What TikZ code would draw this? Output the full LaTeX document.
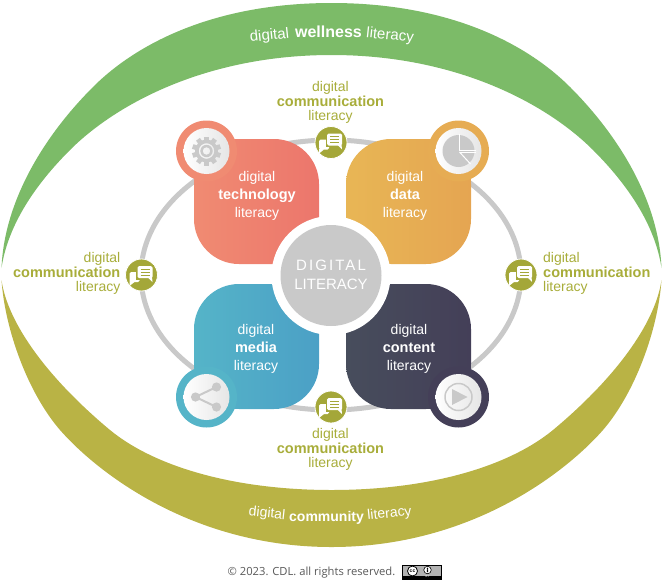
\documentclass[tikz,border=0pt]{standalone}
\usepackage{fontspec}
\setmainfont{Liberation Sans}
\newfontfamily\notefont{Open Sans}
\usepackage{xcolor}
\definecolor{wellgreen}{HTML}{7CBB68}
\definecolor{commolive}{HTML}{B9B345}
\definecolor{markolive}{HTML}{A4A739}
\definecolor{wordolive}{HTML}{A8AD3A}
\definecolor{ringgray}{HTML}{C9C9C9}
\definecolor{techleft}{HTML}{F08B72}
\definecolor{techright}{HTML}{EC766C}
\definecolor{dataleft}{HTML}{E8B655}
\definecolor{dataright}{HTML}{E5A552}
\definecolor{medialeft}{HTML}{55B4C8}
\definecolor{mediaright}{HTML}{4BA0C6}
\definecolor{contentleft}{HTML}{474D5C}
\definecolor{contentright}{HTML}{443F58}
\newcommand{\strongword}[1]{{\fontsize{14.5}{14.5}\selectfont\bfseries #1}}
\tikzset{
  squarebox/.style={rectangle,rounded corners=45pt,minimum size=125pt,inner sep=0pt},
  badge/.style={circle,minimum size=61pt,inner sep=0pt},
  iconface/.style={circle,minimum size=46pt,inner sep=0pt,left color=white,right color=black!10},
  chatmark/.style={circle,minimum size=32pt,inner sep=0pt,fill=markolive,draw=white,line width=.8pt},
  innerlabel/.style={align=center,text=white,inner sep=0pt,font=\fontsize{14}{18}\selectfont},
  outerlabel/.style={align=#1,text=wordolive,inner sep=0pt,font=\fontsize{14}{14.5}\selectfont},
  arcword/.style={text=white,inner sep=0pt},
  chatglyph/.pic={
    \fill[white,rounded corners=1.5pt] (-12,-3) rectangle (-2,7);
    \fill[white] (-12,6) -- (-12,11) -- (-7,7) -- cycle;
    \fill[markolive] (-5.5,-10) rectangle (12,4.5);
    \fill[white,rounded corners=1.5pt] (-4,-9) rectangle (11,3);
    \fill[white] (6,2) -- (11,7) -- (10.5,2) -- cycle;
    \draw[markolive,line width=1pt] (-1,-6) -- (8,-6) (-1,-3) -- (8,-3) (-1,0) -- (8,0);
  },
  gearglyph/.pic={
    \foreach \a in {0,36,...,324}
      \fill[ringgray,rotate=\a] (-2.4,-14.5) rectangle (2.4,-9);
    \fill[ringgray,even odd rule] (0,0) circle (11.5) (0,0) circle (7.8);
    \fill[ringgray,even odd rule] (0,0) circle (6.2) (0,0) circle (3.8);
  },
  pieglyph/.pic={
    \fill[ringgray] (0,0) circle (16);
    \draw[white,line width=1pt] (1,-17) -- (1,-1) -- (17,-1);
    \draw[white,line width=1pt] (1,1) -- (17,1);
    \draw[white,line width=1pt] (1,1) -- (12,13);
  },
  shareglyph/.pic={
    \draw[ringgray,line width=2pt] (10,-10) -- (-11,0) -- (10,10);
    \fill[ringgray] (10,-10) circle (4.6) (-11,0) circle (4.6) (10,10) circle (4.6);
  },
  playglyph/.pic={
    \draw[ringgray,line width=1.5pt] (0,0) circle (13.5);
    \fill[ringgray] (-6.5,-8) -- (-6.5,8) -- (9,0) -- cycle;
  },
}

\begin{document}
\begin{tikzpicture}[x=1pt,y=-1pt]
\useasboundingbox (0,0) rectangle (663,584);

\fill[wellgreen] (1.5,268) .. controls (4,205) and (40,140) .. (93,87)
  .. controls (137,43) and (215,3) .. (331.5,3)
  .. controls (448,3) and (526,43) .. (570,87)
  .. controls (623,140) and (659,205) .. (661.5,268)
  .. controls (655,225) and (628,185) .. (593,150)
  .. controls (548,105) and (458,55) .. (331.5,55)
  .. controls (205,55) and (115,105) .. (70,150)
  .. controls (35,185) and (8,225) .. (1.5,268) -- cycle;
\fill[commolive] (1.5,280) .. controls (5,330) and (28,393) .. (60,430)
  .. controls (95,470) and (190,547) .. (331.5,547)
  .. controls (473,547) and (568,470) .. (603,430)
  .. controls (635,393) and (658,330) .. (661.5,280)
  .. controls (655,325) and (613,380) .. (553,430)
  .. controls (508,467) and (428,490) .. (331.5,490)
  .. controls (235,490) and (155,467) .. (110,430)
  .. controls (50,380) and (8,325) .. (1.5,280) -- cycle;

\node[arcword,font=\fontsize{15}{15}\selectfont,rotate=6] (wellA) at (269.5,36) {digital};
\node[arcword,font=\fontsize{16}{15}\selectfont\bfseries] (wellB) at (328.5,32) {wellness};
\node[arcword,font=\fontsize{15}{15}\selectfont,rotate=-6] (wellC) at (390,36) {literacy};
\node[arcword,font=\fontsize{14}{14}\selectfont,rotate=-6] (commA) at (267,514) {digital};
\node[arcword,font=\fontsize{14}{14}\selectfont\bfseries] (commB) at (326.5,518) {community};
\node[arcword,font=\fontsize{14}{14}\selectfont,rotate=6] (commC) at (389.5,514) {literacy};

\draw[ringgray,line width=5pt] (331,275) ellipse (190 and 135);

\node[squarebox,left color=techleft,right color=techright] (tech) at (256.5,201.5) {};
\node[squarebox,left color=dataleft,right color=dataright] (data) at (408.5,201.5) {};
\node[squarebox,left color=medialeft,right color=mediaright] (media) at (256.5,346.5) {};
\node[squarebox,left color=contentleft,right color=contentright] (content) at (408.5,346.5) {};

\node[badge,fill=techleft] (techbadge) at (206.5,151) {};
\node[badge,fill=dataright!60!dataleft] (databadge) at (458.5,151) {};
\node[badge,fill=medialeft] (mediabadge) at (206.5,397) {};
\node[badge,fill=contentright] (contentbadge) at (458.5,397) {};

\node[iconface] (techface) at (techbadge) {};
\node[iconface] (dataface) at (databadge) {};
\node[iconface] (mediaface) at (mediabadge) {};
\node[iconface] (contentface) at (contentbadge) {};

\pic at (techface) {gearglyph};
\pic at (dataface) {pieglyph};
\pic at (mediaface) {shareglyph};
\pic at (contentface) {playglyph};

\node[circle,fill=white,minimum size=119pt,inner sep=0pt] (corehalo) at (331,275.5) {};
\node[circle,fill=ringgray,minimum size=101pt,inner sep=0pt] (core) at (corehalo) {};
\node[text=white,inner sep=0pt,font=\fontsize{15}{15}\selectfont\addfontfeature{LetterSpace=14}] (coreA) at (331,265.5) {DIGITAL};
\node[text=white,inner sep=0pt,font=\fontsize{15}{15}\selectfont] (coreB) at (331,284.5) {LITERACY};

\node[innerlabel] (techtext) at (257,195.5) {digital\\\strongword{technology}\\literacy};
\node[innerlabel] (datatext) at (405,195.5) {digital\\\strongword{data}\\literacy};
\node[innerlabel] (mediatext) at (256,348.5) {digital\\\strongword{media}\\literacy};
\node[innerlabel] (contenttext) at (409,348.5) {digital\\\strongword{content}\\literacy};

\foreach \n/\x/\y in {top/331/142.5,bottom/331/407,left/141.5/275,right/521/275} {
  \node[chatmark] (chat\n) at (\x,\y) {};
  \pic at (chat\n) {chatglyph};
}

\node[outerlabel=center] (wordtop) at (330.5,102.5) {digital\\\strongword{communication}\\literacy};
\node[outerlabel=center] (wordbottom) at (330.5,449.5) {digital\\\strongword{communication}\\literacy};
\node[outerlabel=right,anchor=east] (wordleft) at (120.5,273.5) {digital\\\strongword{communication}\\literacy};
\node[outerlabel=left,anchor=west] (wordright) at (543,273.5) {digital\\\strongword{communication}\\literacy};

\node[text=black!65,inner sep=0pt,font=\notefont\fontsize{11.2}{11.2}\selectfont] (note) at (311.5,572.5) {© 2023. CDL. all rights reserved.};

\node[rectangle,draw=black,line width=.8pt,fill=black!30,minimum width=39pt,minimum height=14pt,inner sep=0pt] (ccbox) at (421.5,572) {};
\fill[black] (ccbox.south west) rectangle (441,575.5);
\node[circle,draw=black,fill=white,line width=.8pt,minimum size=10pt,inner sep=0pt,font=\fontsize{5}{5}\selectfont\bfseries] (cc) at (412.5,571) {cc};
\node[circle,draw=black,fill=white,line width=.6pt,minimum size=7.5pt,inner sep=0pt] (by) at (427.5,570) {};
\fill[black] (427.5,568.4) circle (.8) (426.8,569.4) rectangle (428.2,572);
\node[text=white,inner sep=0pt,font=\fontsize{2.8}{3}\selectfont] (bytext) at (427.5,577) {BY};
\end{tikzpicture}
\end{document}
